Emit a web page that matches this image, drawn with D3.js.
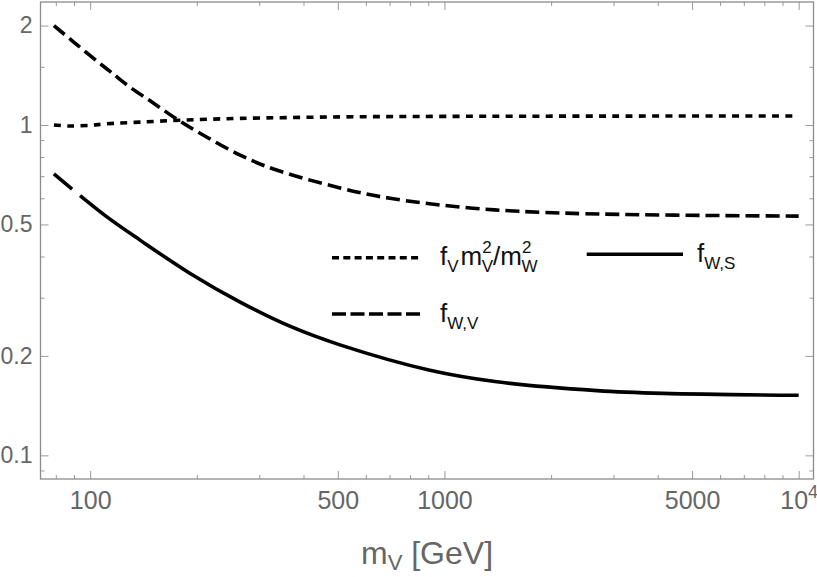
<!DOCTYPE html>
<html><head><meta charset="utf-8">
<script src="https://cdn.jsdelivr.net/npm/d3@7"></script>
<style>
body{margin:0;background:#fff}
svg{display:block}
text{font-family:"Liberation Sans", Arial, Helvetica, sans-serif}
</style>
</head><body>
<svg id="chart" width="817" height="577"></svg>
<script>
// ---- data ----
const massDotted = [79, 87.6, 100, 111, 138, 183, 265, 507, 1000, 3000, 10000];
const fVratio    = [1.000, 0.993, 0.998, 1.008, 1.020, 1.035, 1.047, 1.058, 1.062, 1.064, 1.065];

const massDashed = [79, 90, 105, 115, 129, 150, 177, 213, 265, 329, 507, 702, 1203, 2308, 10000];
const fWV        = [2.00, 1.78, 1.555, 1.44, 1.306, 1.17, 1.036, 0.920, 0.811, 0.736, 0.645, 0.600, 0.560, 0.540, 0.530];

const massSolid  = [79, 89.5, 111, 138, 191, 265, 366, 507, 910, 1406, 2696, 4140, 10000];
const fWS        = [0.711, 0.636, 0.529, 0.449, 0.356, 0.291, 0.246, 0.216, 0.181, 0.167, 0.157, 0.154, 0.152];

const xMajorTicks = [100, 500, 1000, 5000, 10000];
const xTickLabels = ["100", "500", "1000", "5000", "10^4"];
const xMinorTicks = [80, 90, 200, 300, 400, 600, 700, 800, 900, 2000, 3000, 4000, 6000, 7000, 8000, 9000];
const yMajorTicks = [0.1, 0.2, 0.5, 1, 2];
const yTickLabels = ["0.1", "0.2", "0.5", "1", "2"];
const yMinorTicks = [0.09, 0.3, 0.4, 0.6, 0.7, 0.8, 0.9, 1.5];

// ---- layout ----
const svg = d3.select("#chart");
const P = {left: 40.5, right: 813.5, top: 2, bottom: 479};
const x = d3.scaleLog().domain([72.4, 11010]).range([P.left, P.right]);
const y = d3.scaleLog().domain([0.0848, 2.357]).range([P.bottom, P.top]);

const tickColor = "#9a9a9a";
const labelColor = "#666";

function styleAxis(size) {
  return g => {
    g.attr("color", tickColor).attr("font-family", null).attr("font-size", size);
    g.select(".domain").remove();
    g.selectAll(".tick text").attr("fill", labelColor);
  };
}

// bottom axis (major + minor)
svg.append("g").attr("transform", `translate(0,${P.bottom})`)
  .call(d3.axisBottom(x).tickValues(xMajorTicks).tickSize(-8).tickPadding(12)
        .tickFormat((d, i) => xTickLabels[i]))
  .call(styleAxis(25));
svg.append("g").attr("transform", `translate(0,${P.bottom})`)
  .call(d3.axisBottom(x).tickValues(xMinorTicks).tickSize(-4).tickFormat(""))
  .call(styleAxis(25));
// 10^4 label with superscript
svg.selectAll("g .tick text").filter(function(){ return d3.select(this).text() === "10^4"; })
  .each(function(){
    const t = d3.select(this).text("");
    t.append("tspan").text("10");
    t.append("tspan").attr("dy", -11).attr("font-size", 18).text("4");
  });

// top axis
svg.append("g").attr("transform", `translate(0,${P.top})`)
  .call(d3.axisTop(x).tickValues(xMajorTicks).tickSize(-8).tickFormat(""))
  .call(styleAxis(25));
svg.append("g").attr("transform", `translate(0,${P.top})`)
  .call(d3.axisTop(x).tickValues(xMinorTicks).tickSize(-4).tickFormat(""))
  .call(styleAxis(25));

// left axis
svg.append("g").attr("transform", `translate(${P.left},0)`)
  .call(d3.axisLeft(y).tickValues(yMajorTicks).tickSize(-8).tickPadding(8)
        .tickFormat((d, i) => yTickLabels[i]))
  .call(styleAxis(23));
svg.append("g").attr("transform", `translate(${P.left},0)`)
  .call(d3.axisLeft(y).tickValues(yMinorTicks).tickSize(-4).tickFormat(""))
  .call(styleAxis(23));

// right axis
svg.append("g").attr("transform", `translate(${P.right},0)`)
  .call(d3.axisRight(y).tickValues(yMajorTicks).tickSize(-8).tickFormat(""))
  .call(styleAxis(23));
svg.append("g").attr("transform", `translate(${P.right},0)`)
  .call(d3.axisRight(y).tickValues(yMinorTicks).tickSize(-4).tickFormat(""))
  .call(styleAxis(23));

// frame
svg.append("rect").attr("x", P.left).attr("y", P.top)
  .attr("width", P.right - P.left).attr("height", P.bottom - P.top)
  .attr("fill", "none").attr("stroke", "#8c8c8c").attr("stroke-width", 1.3);

// ---- curves ----
const line = d3.line().x(d => x(d[0])).y(d => y(d[1])).curve(d3.curveCatmullRom.alpha(0.5));
const series = [
  {m: massDotted, v: fVratio, dash: "7 6.3"},
  {m: massDashed, v: fWV, dash: "14 6"},
  {m: massSolid, v: fWS, dash: "23.5 10.5 4000"}
];
series.forEach(s => {
  svg.append("path").datum(s.m.map((m, i) => [m, s.v[i]]))
    .attr("d", line).attr("fill", "none").attr("stroke", "#000")
    .attr("stroke-width", 3.6).attr("stroke-dasharray", s.dash);
});

// ---- legend ----
const legFont = 26, subFont = 17;
const leg = svg.append("g");
function sample(x1, x2, yy, dash) {
  leg.append("line").attr("x1", x1).attr("x2", x2).attr("y1", yy).attr("y2", yy)
    .attr("stroke", "#000").attr("stroke-width", 3.6).attr("stroke-dasharray", dash);
}
sample(332, 420, 257.7, "7 4.3");
sample(332, 420, 314, "14 4.5");
sample(586.7, 683, 254.3, null);

// f_V m_V^2 / m_W^2
const t1 = leg.append("text").attr("x", 440).attr("y", 265).attr("font-size", legFont).attr("fill", "#111");
t1.append("tspan").text("f");
t1.append("tspan").attr("font-size", subFont).attr("dy", 7).text("V");
t1.append("tspan").attr("dy", -7).attr("dx", 2).text("m");
t1.append("tspan").attr("font-size", subFont).attr("dy", -12).text("2");
t1.append("tspan").attr("font-size", subFont).attr("dy", 19).attr("dx", -10).text("V");
t1.append("tspan").attr("dy", -7).text("/m");
t1.append("tspan").attr("font-size", subFont).attr("dy", -12).text("2");
t1.append("tspan").attr("font-size", subFont).attr("dy", 19).attr("dx", -10).text("W");

// f_W,V
const t2 = leg.append("text").attr("x", 440).attr("y", 322).attr("font-size", legFont).attr("fill", "#111");
t2.append("tspan").text("f");
t2.append("tspan").attr("font-size", subFont).attr("dy", 7).text("W,V");

// f_W,S
const t3 = leg.append("text").attr("x", 697).attr("y", 262).attr("font-size", legFont).attr("fill", "#111");
t3.append("tspan").text("f");
t3.append("tspan").attr("font-size", subFont).attr("dy", 7).text("W,S");

// ---- axis title ----
const title = svg.append("text").attr("x", 427).attr("y", 564).attr("text-anchor", "middle")
  .attr("font-size", 32).attr("fill", labelColor);
title.append("tspan").text("m");
title.append("tspan").attr("font-size", 22).attr("dy", 6).text("V");
title.append("tspan").attr("dy", -6).text(" [GeV]");
</script>
</body></html>
